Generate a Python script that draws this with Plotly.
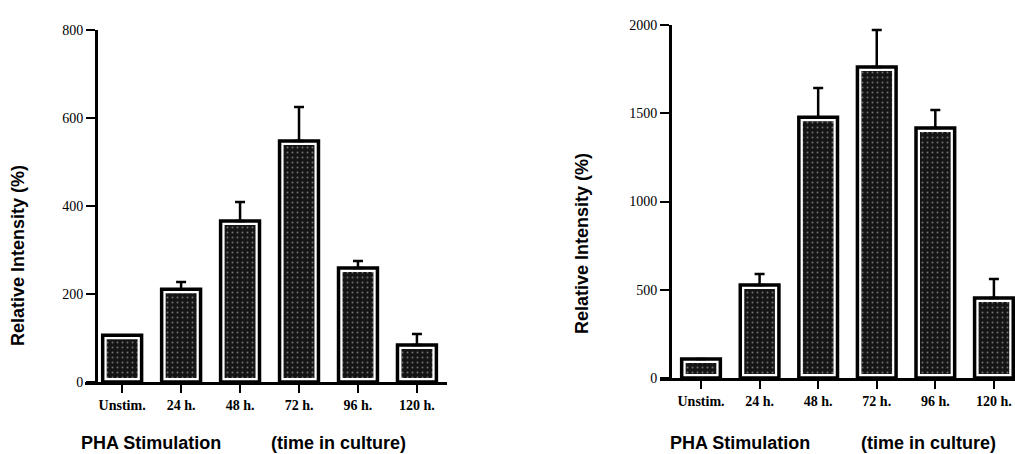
import plotly.graph_objects as go

categories = ["Unstim.", "24 h.", "48 h.", "72 h.", "96 h.", "120 h."]

left_values = [106, 211, 366, 548, 259, 84]
left_errors = [0, 16, 43, 77, 16, 25]
left_ticks = [0, 200, 400, 600, 800]

right_values = [108, 527, 1478, 1762, 1416, 453]
right_errors = [0, 62, 165, 210, 102, 108]
right_ticks = [0, 500, 1000, 1500, 2000]

W, H = 1015, 454
FILL = "#151515"
SERIF = "Liberation Serif"
SANS = "Liberation Sans"

fig = go.Figure()
idx = list(range(len(categories)))


def add_bars(vals, errs, xa, ya):
    fig.add_trace(go.Bar(
        x=idx, y=vals, xaxis=xa, yaxis=ya, width=0.66,
        marker=dict(color=FILL, line=dict(color="white", width=8),
                    pattern=dict(shape=".", fgcolor="#707070", bgcolor=FILL,
                                 size=5, solidity=0.12)),
        showlegend=False, hoverinfo="skip"))
    fig.add_trace(go.Bar(
        x=idx, y=vals, xaxis=xa, yaxis=ya, width=0.66,
        marker=dict(color="rgba(0,0,0,0)", line=dict(color="black", width=3.5)),
        error_y=dict(type="data", symmetric=False, array=errs,
                     arrayminus=[0] * len(errs), color="black",
                     thickness=2.5, width=5),
        showlegend=False, hoverinfo="skip"))


add_bars(left_values, left_errors, "x", "y")
add_bars(right_values, right_errors, "x2", "y2")

xcommon = dict(tickmode="array", tickvals=idx, ticktext=categories,
               showline=True, linecolor="black", linewidth=3,
               ticks="outside", ticklen=8, tickwidth=2, tickcolor="black",
               showgrid=False, zeroline=False, automargin=False,
               tickfont=dict(family=SERIF, size=14, color="black", weight="bold"))
ycommon = dict(tickmode="array", showline=True, linecolor="black", linewidth=3,
               ticks="outside", ticklen=9, tickwidth=2, tickcolor="black",
               showgrid=False, zeroline=False, anchor="free", automargin=False,
               tickfont=dict(family=SERIF, size=14, color="black"))

fig.update_layout(
    template="none",
    width=W, height=H, margin=dict(l=0, r=0, t=0, b=0, pad=0),
    paper_bgcolor="white", plot_bgcolor="white", barmode="overlay",
    xaxis=dict(xcommon, domain=[85 / W, 447 / W], range=[-0.63, 5.51], anchor="y"),
    yaxis=dict(ycommon, domain=[1 - 382 / H, 1 - 30 / H], range=[0, 800],
               tickvals=left_ticks, ticktext=[str(t) for t in left_ticks],
               position=96 / W),
    xaxis2=dict(xcommon, domain=[660 / W, 1.0], range=[-0.70, 5.36], anchor="y2"),
    yaxis2=dict(ycommon, domain=[1 - 378 / H, 1 - 25 / H], range=[0, 2000],
                tickvals=right_ticks, ticktext=[str(t) for t in right_ticks],
                position=670 / W),
)

ann_font = dict(family=SANS, size=18, color="black", weight="bold")
anns = [
    (18 / W, 1 - 256 / H, "Relative Intensity (%)", -90),
    (582 / W, 1 - 244 / H, "Relative Intensity (%)", -90),
    (151 / W, 1 - 443 / H, "PHA Stimulation", 0),
    (338 / W, 1 - 443 / H, "(time in culture)", 0),
    (740 / W, 1 - 443 / H, "PHA Stimulation", 0),
    (928 / W, 1 - 443 / H, "(time in culture)", 0),
]
for x, y, t, a in anns:
    fig.add_annotation(x=x, y=y, xref="paper", yref="paper", text=t,
                       textangle=a, showarrow=False, font=ann_font,
                       xanchor="center", yanchor="middle")

fig.write_html("out.html", config={"displayModeBar": False},
               post_script="document.body.style.margin='0';"
                           "document.body.style.overflow='hidden';")
